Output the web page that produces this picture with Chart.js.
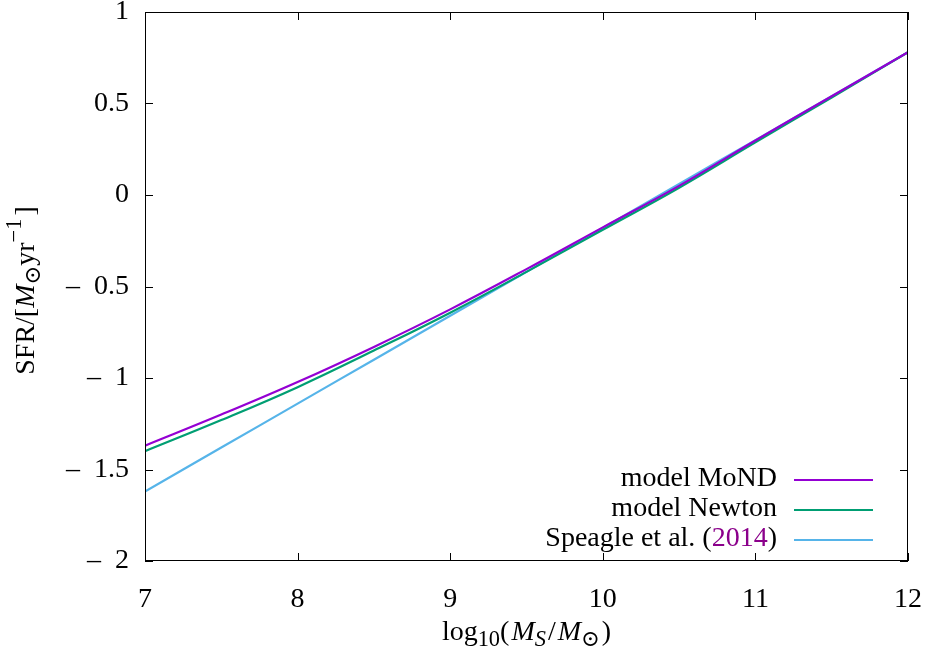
<!DOCTYPE html>
<html>
<head>
<meta charset="utf-8">
<script src="https://cdn.jsdelivr.net/npm/chart.js@4/dist/chart.umd.min.js"></script>
<style>
  html, body { margin: 0; padding: 0; background: #fff; }
  #wrap { width: 925px; height: 657px; }
</style>
</head>
<body>
<div id="wrap"><canvas id="sfrChart" width="925" height="657"></canvas></div>
<script>
// ============================
// Data
// ============================
const logMass = [7, 7.5, 8, 8.5, 9, 9.5, 10, 10.5, 11, 11.5, 12];
const sfrMoND = [-1.37, -1.20, -1.022, -0.83, -0.625, -0.405, -0.177, 0.05, 0.298, 0.54, 0.78];
const sfrNewton = [-1.40, -1.23, -1.05, -0.85, -0.643, -0.42, -0.19, 0.04, 0.288, 0.533, 0.78];
const sfrSpeagle = [-1.62, -1.38, -1.14, -0.90, -0.66, -0.42, -0.18, 0.06, 0.30, 0.54, 0.78];
const xTicks = [7, 8, 9, 10, 11, 12];
const yTicks = [-2, -1.5, -1, -0.5, 0, 0.5, 1];

const seriesNames = ["model MoND", "model Newton", "Speagle et al. (2014)"];
const seriesColors = ["#9400d3", "#009e73", "#56b4e9"];

const SERIF = "'Liberation Serif', 'DejaVu Serif', serif";
const FS = 28;

function pts(ys) {
  return logMass.map((x, i) => ({ x: x, y: ys[i] }));
}

// negative ticks: long dash plus a space, as in the gnuplot style
function fmt(v) {
  return v < 0 ? "\u2013\u2002" + Math.abs(v) : String(v);
}

// ============================
// Rich text helper (italic, sub/superscript)
// ============================
function segFont(s) {
  const size = s.small ? FS * 0.8 : FS;
  return (s.italic ? "italic " : "") + size + "px " + SERIF;
}
function measureRich(ctx, segs) {
  let w = 0;
  segs.forEach(s => { ctx.font = segFont(s); w += ctx.measureText(s.t).width + (s.gap || 0); });
  return w;
}
function drawRich(ctx, segs, x, y, align) {
  const w = measureRich(ctx, segs);
  let cx = align === "right" ? x - w : align === "center" ? x - w / 2 : x;
  ctx.textBaseline = "middle";
  ctx.textAlign = "left";
  segs.forEach(s => {
    ctx.font = segFont(s);
    ctx.fillStyle = s.color || "#000";
    ctx.fillText(s.t, cx, y + (s.dy || 0));
    cx += ctx.measureText(s.t).width + (s.gap || 0);
  });
}

const xTitle = [
  { t: "log" }, { t: "10", small: true, dy: 7 }, { t: "(", gap: 2 },
  { t: "M", italic: true }, { t: "S", italic: true, small: true, dy: 7, gap: 2 },
  { t: "/", gap: 2 }, { t: "M", italic: true }, { t: "\u2299", small: true, dy: 7, gap: 2 }, { t: ")" }
];
const yTitle = [
  { t: "SFR/[" }, { t: "M", italic: true }, { t: "\u2299", small: true, dy: 7 },
  { t: "yr" }, { t: "\u22121", small: true, dy: -12, gap: 3 }, { t: "]" }
];
const legendRows = [
  [{ t: seriesNames[0] }],
  [{ t: seriesNames[1] }],
  [{ t: "Speagle et al. (" }, { t: "2014", color: "#8b008b" }, { t: ")" }]
];

// ============================
// Frame, inward ticks, titles, legend
// ============================
const decorPlugin = {
  id: "decor",
  afterDraw(chart) {
    const ctx = chart.ctx;
    const a = chart.chartArea;
    const xs = chart.scales.x, ys = chart.scales.y;
    const tl = 8;
    ctx.save();
    ctx.strokeStyle = "#000";
    ctx.lineWidth = 1;
    ctx.strokeRect(a.left + 0.5, a.top + 0.5, a.right - a.left - 1, a.bottom - a.top - 1);
    ctx.beginPath();
    xTicks.forEach(v => {
      const px = Math.round(xs.getPixelForValue(v)) + 0.5;
      ctx.moveTo(px, a.bottom); ctx.lineTo(px, a.bottom - tl);
      ctx.moveTo(px, a.top); ctx.lineTo(px, a.top + tl);
    });
    yTicks.forEach(v => {
      const py = Math.round(ys.getPixelForValue(v)) + 0.5;
      ctx.moveTo(a.left, py); ctx.lineTo(a.left + tl, py);
      ctx.moveTo(a.right, py); ctx.lineTo(a.right - tl, py);
    });
    ctx.stroke();

    // axis titles
    drawRich(ctx, xTitle, (a.left + a.right) / 2, 633, "center");
    ctx.save();
    ctx.translate(27, (a.top + a.bottom) / 2 + 4);
    ctx.rotate(-Math.PI / 2);
    drawRich(ctx, yTitle, 0, 0, "center");
    ctx.restore();

    // legend
    const rowY = [479, 509, 539];
    legendRows.forEach((segs, i) => {
      drawRich(ctx, segs, 777, rowY[i], "right");
      ctx.strokeStyle = seriesColors[i];
      ctx.lineWidth = 2;
      ctx.beginPath();
      ctx.moveTo(794, rowY[i] + 1);
      ctx.lineTo(873, rowY[i] + 1);
      ctx.stroke();
    });
    ctx.restore();
  }
};

function noPad(s) {
  s.paddingTop = 0; s.paddingBottom = 0; s.paddingLeft = 0; s.paddingRight = 0;
}

// ============================
// Chart
// ============================
new Chart(document.getElementById("sfrChart"), {
  type: "line",
  data: {
    datasets: [
      { label: seriesNames[0], data: pts(sfrMoND), borderColor: seriesColors[0] },
      { label: seriesNames[1], data: pts(sfrNewton), borderColor: seriesColors[1] },
      { label: seriesNames[2], data: pts(sfrSpeagle), borderColor: seriesColors[2] }
    ].map(d => Object.assign(d, { borderWidth: 2.2, pointRadius: 0, tension: 0.4, fill: false }))
  },
  options: {
    responsive: false,
    animation: false,
    layout: { padding: { top: 12, right: 17, left: 0, bottom: 0 } },
    plugins: { legend: { display: false }, tooltip: { enabled: false } },
    scales: {
      x: {
        type: "linear", min: 7, max: 12,
        grid: { display: false }, border: { display: false },
        afterFit: s => { s.height = 96; noPad(s); },
        afterBuildTicks: s => { s.ticks = xTicks.map(v => ({ value: v })); },
        ticks: { color: "#000", padding: 14, font: { family: SERIF, size: FS }, callback: fmt, maxRotation: 0 }
      },
      y: {
        type: "linear", min: -2, max: 1,
        grid: { display: false }, border: { display: false },
        afterFit: s => { s.width = 145; noPad(s); },
        afterBuildTicks: s => { s.ticks = yTicks.map(v => ({ value: v })); },
        ticks: { color: "#000", padding: 8, font: { family: SERIF, size: FS }, callback: fmt }
      }
    }
  },
  plugins: [decorPlugin]
});
</script>
</body>
</html>
